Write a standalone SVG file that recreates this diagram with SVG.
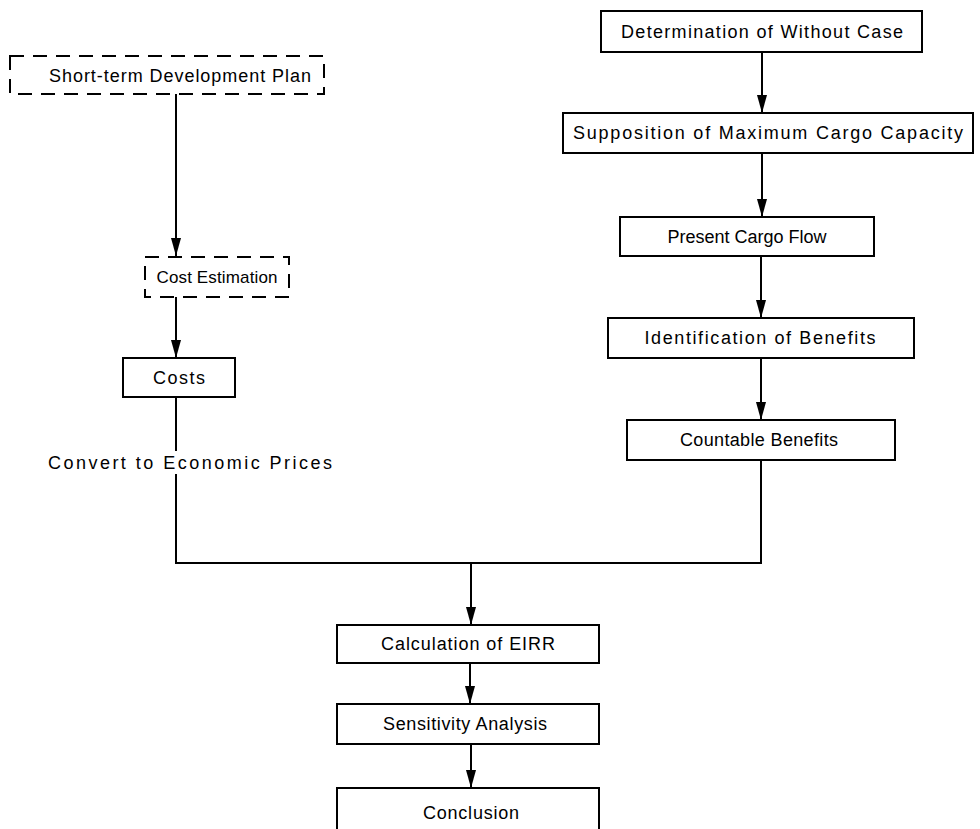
<svg xmlns="http://www.w3.org/2000/svg" width="980" height="829" viewBox="0 0 980 829">
<defs>
<style>
.box{fill:#fff;stroke:#000;stroke-width:2}
.dash{fill:#fff;stroke:#000;stroke-width:2;stroke-dasharray:14 9}
.t{font-family:"Liberation Sans",Arial,sans-serif;font-size:18px;fill:#000;text-anchor:middle}
.s{font-size:17px}
.ln{fill:none;stroke:#000;stroke-width:2}
</style>
<marker id="ah" viewBox="0 0 18 10" refX="18" refY="5" markerWidth="18" markerHeight="10" markerUnits="userSpaceOnUse" orient="auto">
<path d="M0,0 L18,5 L0,10 Z" fill="#000"/>
</marker>
</defs>
<rect width="980" height="829" fill="#fff"/>
<g id="connectors">
<line class="ln" x1="176" y1="94" x2="176" y2="256" marker-end="url(#ah)"/>
<line class="ln" x1="176" y1="297" x2="176" y2="358" marker-end="url(#ah)"/>
<line class="ln" x1="176" y1="397" x2="176" y2="451"/>
<line class="ln" x1="176" y1="474" x2="176" y2="563"/>
<line class="ln" x1="175" y1="563" x2="762" y2="563"/>
<line class="ln" x1="761" y1="460" x2="761" y2="564"/>
<line class="ln" x1="471" y1="563" x2="471" y2="625" marker-end="url(#ah)"/>
<line class="ln" x1="470" y1="663" x2="470" y2="704" marker-end="url(#ah)"/>
<line class="ln" x1="471" y1="744" x2="471" y2="788" marker-end="url(#ah)"/>
<line class="ln" x1="762" y1="52" x2="762" y2="113" marker-end="url(#ah)"/>
<line class="ln" x1="762" y1="153" x2="762" y2="217" marker-end="url(#ah)"/>
<line class="ln" x1="761" y1="256" x2="761" y2="318" marker-end="url(#ah)"/>
<line class="ln" x1="761" y1="358" x2="761" y2="420" marker-end="url(#ah)"/>
<text class="t" x="190" y="469" textLength="284" lengthAdjust="spacing">Convert to Economic Prices</text>
</g>
<g id="short-term">
<rect class="dash" x="10" y="56" width="314" height="38"/>
<text class="t" x="180" y="82" textLength="262" lengthAdjust="spacing">Short-term Development Plan</text>
</g>
<g id="cost-estimation">
<rect class="dash" x="145" y="257" width="144" height="40"/>
<text class="t s" x="217" y="283" textLength="121" lengthAdjust="spacing">Cost Estimation</text>
</g>
<g id="costs">
<rect class="box" x="123" y="358" width="112" height="39"/>
<text class="t" x="179" y="384" textLength="52" lengthAdjust="spacing">Costs</text>
</g>
<g id="determination">
<rect class="box" x="601" y="11" width="321" height="41"/>
<text class="t" x="762" y="38" textLength="282" lengthAdjust="spacing">Determination of Without Case</text>
</g>
<g id="supposition">
<rect class="box" x="563" y="113" width="410" height="40"/>
<text class="t" x="768" y="139" textLength="390" lengthAdjust="spacing">Supposition of Maximum Cargo Capacity</text>
</g>
<g id="present-cargo">
<rect class="box" x="620" y="217" width="254" height="39"/>
<text class="t" x="747" y="243" textLength="159" lengthAdjust="spacing">Present Cargo Flow</text>
</g>
<g id="identification">
<rect class="box" x="608" y="318" width="306" height="40"/>
<text class="t" x="760" y="344" textLength="231" lengthAdjust="spacing">Identification of Benefits</text>
</g>
<g id="countable">
<rect class="box" x="627" y="420" width="268" height="40"/>
<text class="t" x="759" y="446" textLength="158" lengthAdjust="spacing">Countable Benefits</text>
</g>
<g id="eirr">
<rect class="box" x="337" y="625" width="262" height="38"/>
<text class="t" x="468" y="650" textLength="174" lengthAdjust="spacing">Calculation of EIRR</text>
</g>
<g id="sensitivity">
<rect class="box" x="337" y="704" width="262" height="40"/>
<text class="t" x="465" y="730" textLength="164" lengthAdjust="spacing">Sensitivity Analysis</text>
</g>
<g id="conclusion">
<rect class="box" x="337" y="788" width="262" height="60"/>
<text class="t" x="471" y="819" textLength="96" lengthAdjust="spacing">Conclusion</text>
</g>
</svg>
